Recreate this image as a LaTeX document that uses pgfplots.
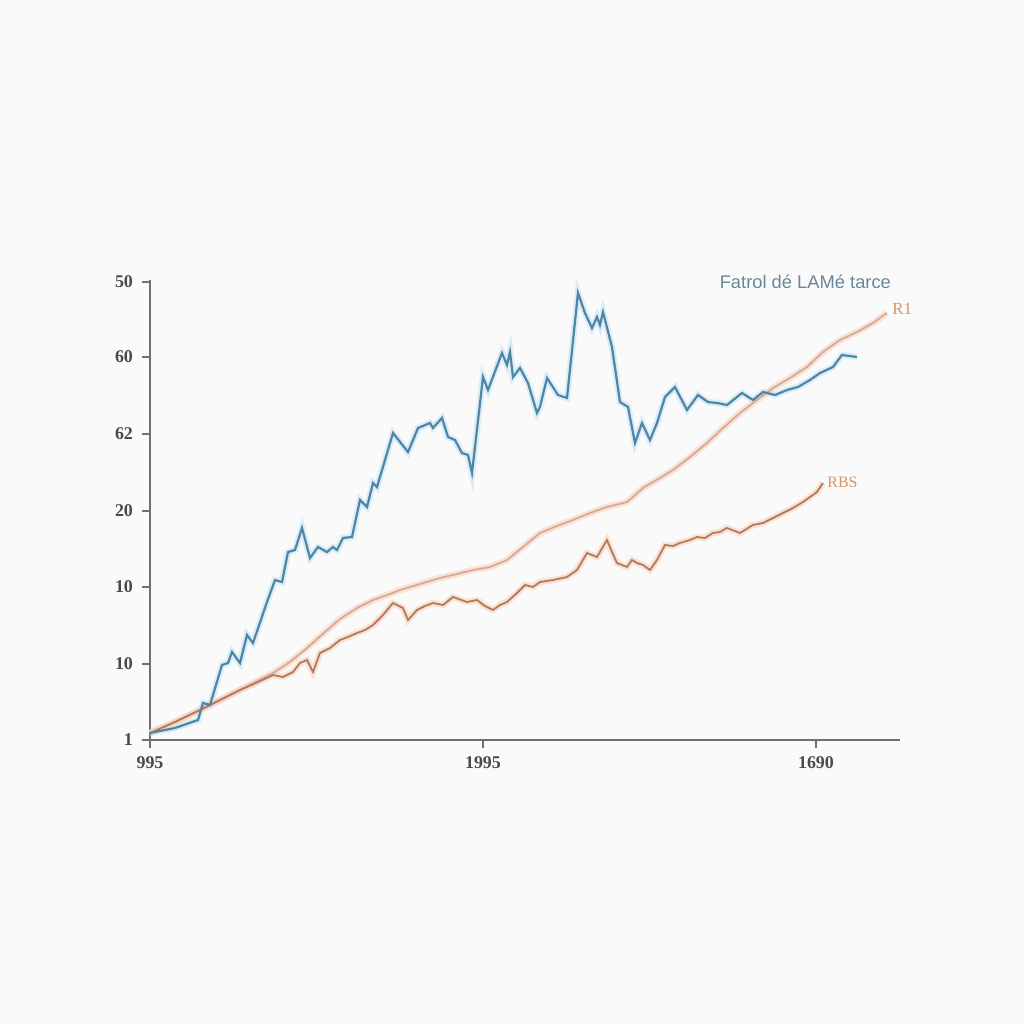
\documentclass[border=0pt]{standalone}
\usepackage{pgfplots}
\usepackage{pgfplotstable}
\pgfplotsset{compat=1.18}
\usepackage{fontspec}
\setmainfont{Liberation Serif}
\newfontfamily\titlefont{Liberation Sans}
\definecolor{bg}{HTML}{FAFAFA}
\definecolor{axisgray}{HTML}{707070}
\definecolor{ticktext}{HTML}{4A4A4A}
\definecolor{blueline}{HTML}{4F86A6}
\definecolor{blueglow}{HTML}{C5E4F5}
\definecolor{rone}{HTML}{D6AA98}
\definecolor{rbs}{HTML}{B47A60}
\definecolor{orangeglow}{HTML}{F7D2BA}
\definecolor{labelorange}{HTML}{DE9366}
\definecolor{titlecol}{HTML}{6A8799}

% columns: px = horizontal pixel position, py = vertical pixel position
\pgfplotstableread{
px py
150 733
175 728
198 720
203 703
210 705
222 665
228 663
232 652
240 663
247 635
253 643
267 602
275 580
282 582
288 552
295 550
302 528
310 558
318 547
327 552
333 547
337 550
343 538
352 537
360 500
367 507
373 483
377 487
393 433
408 452
418 428
430 423
433 428
442 418
448 437
455 440
462 453
468 455
472 473
483 377
488 390
502 353
507 365
510 352
513 377
520 368
528 383
537 413
540 407
547 378
558 395
567 398
578 293
585 313
592 328
597 317
600 325
603 312
612 347
620 402
628 407
635 443
642 423
650 440
657 423
665 397
675 387
687 410
698 395
708 402
717 403
727 405
742 393
753 400
763 392
775 395
787 390
798 387
810 380
820 373
833 367
842 355
857 357
}\blue

\pgfplotstableread{
px py
150 733
175 722
200 710
240 690
273 673
290 662
307 648
325 632
340 619
357 608
373 600
390 594
400 590
420 584
440 578
457 574
473 570
490 567
507 560
523 547
540 533
557 526
573 520
590 513
607 507
627 502
643 488
660 478
673 470
690 457
707 443
723 428
740 413
757 400
773 388
790 378
807 367
823 352
840 340
857 332
873 323
887 313
}\rone

\pgfplotstableread{
px py
150 733
175 722
200 710
220 700
240 690
258 682
273 675
283 677
293 672
300 663
307 660
313 672
320 653
330 648
340 640
348 637
357 633
365 630
373 625
383 615
393 603
403 608
408 620
417 610
425 606
433 603
443 605
453 597
467 602
477 600
485 606
493 610
500 605
507 602
517 593
525 585
533 587
540 582
553 580
567 577
577 570
587 553
597 557
607 540
612 552
617 563
627 567
632 560
637 563
643 565
650 570
657 560
665 545
673 546
680 543
690 540
697 537
705 538
713 533
720 532
727 528
740 533
753 525
763 523
773 518
783 513
793 508
803 502
810 497
817 492
823 483
}\rbs

\begin{document}
\begin{tikzpicture}
\fill[bg] (-75bp,-142bp) rectangle (437bp,370bp);
\begin{axis}[
  scale only axis,
  width=375bp, height=230bp,
  xmin=150, xmax=900, ymin=0, ymax=460,
  axis x line*=bottom, axis y line*=left,
  axis line style={axisgray, line width=0.8bp, -},
  clip=false,
  xtick={150,483,816},
  xticklabels={995,1995,1690},
  ytick={0,76,153,229,306,383,458},
  yticklabels={1,10,10,20,62,60,50},
  tick align=outside,
  major tick length=4bp,
  tick style={axisgray, line width=0.7bp},
  tick label style={font=\fontsize{9}{10}\selectfont\bfseries, text=ticktext},
  /pgf/number format/assume math mode=true,
  xticklabel style={yshift=-1bp},
  yticklabel style={xshift=-1bp},
]
% glow
\addplot[blueglow, line width=3.2bp, opacity=0.6] table[x=px, y expr=740-\thisrow{py}] {\blue};
\addplot[orangeglow, line width=3.2bp, opacity=0.6] table[x=px, y expr=740-\thisrow{py}] {\rone};
\addplot[orangeglow, line width=3.2bp, opacity=0.6] table[x=px, y expr=740-\thisrow{py}] {\rbs};
% lines
\addplot[rone, line width=0.9bp] table[x=px, y expr=740-\thisrow{py}] {\rone};
\addplot[rbs, line width=0.9bp] table[x=px, y expr=740-\thisrow{py}] {\rbs};
\addplot[blueline, line width=1.1bp] table[x=px, y expr=740-\thisrow{py}] {\blue};
% labels
\node[anchor=east, text=titlecol, font=\titlefont\fontsize{9.2}{10}\selectfont] at (axis cs:898,458) {Fatrol dé LAMé tarce};
\node[anchor=west, text=labelorange, font=\fontsize{8.5}{9}\selectfont, inner sep=1bp] at (axis cs:890,431) {R1};
\node[anchor=west, text=labelorange, font=\fontsize{8}{9}\selectfont, inner sep=1bp] at (axis cs:825,258) {RBS};
\end{axis}
\end{tikzpicture}
\end{document}
